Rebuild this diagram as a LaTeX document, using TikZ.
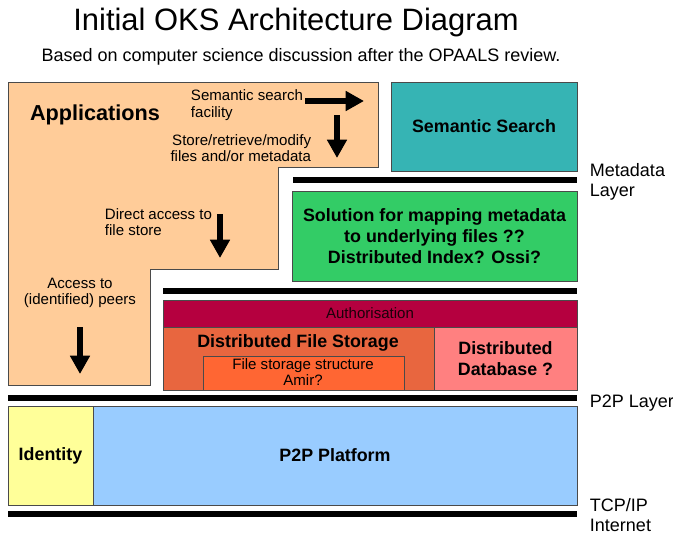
\documentclass[tikz,border=0pt]{standalone}
\usepackage{fontspec}
\setmainfont{Liberation Sans}
\usepackage{xcolor}
\usepackage{tikz}
\usetikzlibrary{arrows.meta}
\definecolor{appColor}{HTML}{FFCC99}
\definecolor{searchColor}{HTML}{36B4B4}
\definecolor{mapColor}{HTML}{33CC66}
\definecolor{authColor}{HTML}{B5003F}
\definecolor{storeColor}{HTML}{E8663F}
\definecolor{structColor}{HTML}{FF6633}
\definecolor{dbColor}{HTML}{FF8080}
\definecolor{idColor}{HTML}{FFFF99}
\definecolor{platColor}{HTML}{99CCFF}
\definecolor{edge}{HTML}{4A4A4A}
\newcommand{\headFont}{\fontsize{12.7}{15}\selectfont\bfseries}
\newcommand{\noteFont}{\fontsize{10.7}{11.6}\selectfont}
\newcommand{\sideFont}{\fontsize{12.8}{14.2}\selectfont}
\tikzset{
	box/.style = {draw = edge, line width = 0.5pt, inner sep = 0pt, outer sep = 0pt},
	head/.style = {font = \headFont, align = center},
	note/.style = {font = \noteFont},
	side/.style = {font = \sideFont, align = left, anchor = west},
	blockarrow/.style = {line width = 4.3pt, -{Triangle[width = 13.5pt, length = 13pt]}},
}
% a filled layer box, placed from its top left corner
\newcommand{\layerBox}[7]{
	\node[below right, box, fill = #2, minimum width = #5*0.025cm, minimum height = #6*0.025cm, head] (#1) at (#3, #4) {#7};
}
% a black bar between two layers
\newcommand{\layerBar}[3]{
	\fill (#1, #3) rectangle (#2, #3+6);
}

\begin{document}
\begin{tikzpicture}[x = 0.025cm, y = -0.025cm]%
		\useasboundingbox (0, 0) rectangle (673, 534);

		\node (title) at (296, 22) {\fontsize{22}{26}\selectfont Initial OKS Architecture Diagram};
		\node (subtitle) at (301, 57) {\fontsize{12.8}{15}\selectfont Based on computer science discussion after the OPAALS review.};

		% applications
		\draw[box, fill = appColor] (8, 82) -- (378, 82) -- (378, 167) -- (278, 167) -- (278, 269)
			-- (150, 269) -- (150, 385) -- (8, 385) -- cycle;
		\node[font = \fontsize{15.4}{18}\selectfont\bfseries] (apps) at (95, 115) {Applications};
		\node[note, anchor = west, align = left] (searchNote) at (186, 105) {Semantic search\\facility};
		\node[note, anchor = east, align = right] (storeNote) at (316, 148) {Store/retrieve/modify\\files and/or metadata};
		\node[note, anchor = west, align = left] (directNote) at (100, 222) {Direct access to\\file store};
		\node[note, align = center] (peersNote) at (80, 293) {Access to\\(identified) peers};

		\coordinate (searchFrom) at (305, 101);
		\coordinate (searchTo) at (364, 101);
		\coordinate (storeFrom) at (337, 115);
		\coordinate (storeTo) at (337, 158);
		\coordinate (directFrom) at (220, 214);
		\coordinate (directTo) at (220, 258);
		\coordinate (peersFrom) at (80, 327);
		\coordinate (peersTo) at (80, 374);
		\draw[blockarrow] (searchFrom) -- (searchTo);
		\draw[blockarrow] (storeFrom) -- (storeTo);
		\draw[blockarrow] (directFrom) -- (directTo);
		\draw[blockarrow] (peersFrom) -- (peersTo);

		% metadata layer
		\layerBox{search}{searchColor}{391}{82}{186}{89}{Semantic Search}
		\layerBar{293}{577}{177}
		\layerBox{mapping}{mapColor}{292}{191}{285}{90}{Solution for mapping metadata\\to underlying files ??\\Distributed Index? Ossi?}
		\layerBar{163}{577}{288}

		% file storage
		\layerBox{auth}{authColor}{163}{300}{414}{27}{}
		\node[note, text = black!85!authColor] (authLabel) at (auth) {Authorisation};
		\layerBox{store}{storeColor}{163}{327}{271}{63}{}
		\node[head] (storeLabel) at (298, 343) {Distributed File Storage};
		\layerBox{struct}{structColor}{203}{356}{201}{34}{}
		\node[note, align = center] (structLabel) at (303, 372) {File storage structure\\Amir?};
		\layerBox{db}{dbColor}{434}{327}{143}{63}{Distributed\\Database ?}
		\layerBar{8}{577}{395}

		% p2p layer
		\layerBox{identity}{idColor}{8}{406}{85}{99}{Identity}
		\layerBox{platform}{platColor}{93}{406}{484}{99}{P2P Platform}
		\layerBar{8}{577}{511}

		% layer names
		\node[side] (metaName) at (585, 182) {Metadata\\Layer};
		\node[side] (p2pName) at (585, 403) {P2P Layer};
		\node[side] (netName) at (585, 515) {TCP/IP\\Internet};
	\end{tikzpicture}
\end{document}
